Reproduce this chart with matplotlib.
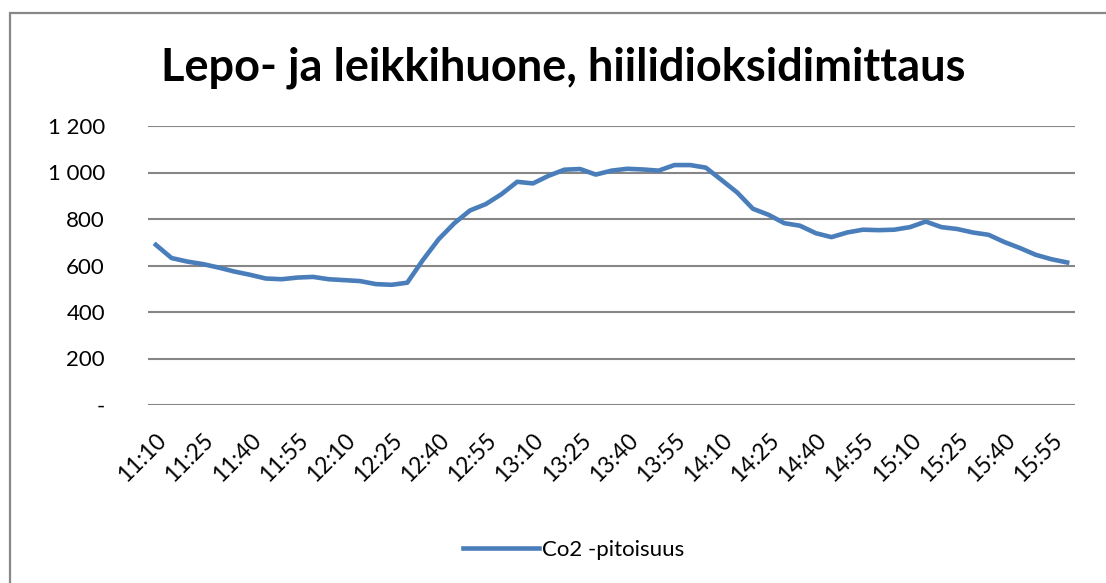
import matplotlib.pyplot as plt
from matplotlib.patches import Rectangle
from matplotlib.ticker import FuncFormatter

plt.rcParams['font.family'] = ['Lato', 'DejaVu Sans']

# mittaukset 5 min välein 11:10 - 16:00
times = []
for m in range(11 * 60 + 10, 16 * 60 + 5, 5):
    times.append(f'{m // 60}:{m % 60:02d}')

co2 = [689, 632, 617, 606, 591, 574, 560, 544, 541, 548,
       551, 541, 537, 533, 520, 517, 526, 624, 713, 782,
       837, 864, 907, 960, 953, 986, 1012, 1015, 991, 1008,
       1016, 1013, 1008, 1032, 1032, 1021, 968, 914, 844, 818,
       782, 771, 739, 722, 742, 754, 752, 754, 765, 789,
       765, 757, 742, 732, 701, 675, 646, 627, 613]

line_color = '#4A7EBB'
grid_color = '#868686'

fig = plt.figure(figsize=(11.06, 5.83), dpi=100)
fig.patches.append(Rectangle((10 / 1106, -0.1), 1.2, 1 - 13 / 583 + 0.1,
                             transform=fig.transFigure, fill=False,
                             edgecolor='#888888', linewidth=1.6))

ax = fig.add_axes([148 / 1106, 1 - 405 / 583, 927 / 1106, 279 / 583])
x = list(range(len(co2)))
ax.plot(x, co2, color=line_color, linewidth=3.3, solid_joinstyle='round',
        label='Co2 -pitoisuus')

ax.set_xlim(-0.5, len(co2) - 0.5)
ax.set_ylim(0, 1200)
ax.set_yticks(range(0, 1201, 200))
ax.yaxis.set_major_formatter(FuncFormatter(
    lambda v, p: '-' if v == 0 else f'{int(v):,}'.replace(',', ' ')))
ax.grid(axis='y', color=grid_color, linewidth=1.5)
ax.set_axisbelow(True)
for s in ax.spines.values():
    s.set_visible(False)
ax.tick_params(axis='y', length=0, pad=31, labelsize=16)
ax.tick_params(axis='x', length=0, pad=18, labelsize=16.5)

ax.set_xticks(x[::3])
ax.set_xticklabels(times[::3], rotation=45, ha='right', va='top',
                   rotation_mode='anchor')

fig.text(0.509, 1 - 68 / 583, 'Lepo- ja leikkihuone, hiilidioksidimittaus',
         ha='center', va='center', fontsize=32.5, fontweight='bold')

fig.legend(loc='center', bbox_to_anchor=(574 / 1106, 1 - 550 / 583),
           frameon=False, fontsize=16, handlelength=3.4, handletextpad=0.15)

fig.savefig('out.png', dpi=100)
